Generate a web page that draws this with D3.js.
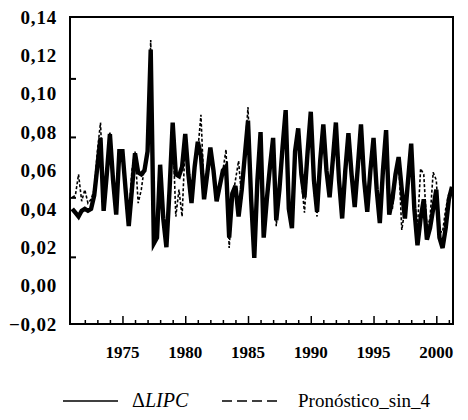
<!DOCTYPE html>
<html><head><meta charset="utf-8">
<script src="https://cdn.jsdelivr.net/npm/d3@7"></script>
<style>body{margin:0;background:#fff}svg{display:block}</style>
</head><body><svg id="c" width="468" height="420"></svg>
<script>
// Quarterly data, 1971Q1 .. 2001Q2
const startYear = 1971;
const dLIPC = [
  0.040,0.038,0.036,0.039, 0.040,0.039,0.040,0.047,
  0.062,0.077,0.039,0.058, 0.079,0.055,0.037,0.070,
  0.070,0.050,0.031,0.050, 0.069,0.059,0.058,0.060,
  0.070,0.123,0.022,0.025, 0.063,0.035,0.020,0.050,
  0.085,0.058,0.057,0.062, 0.079,0.058,0.043,0.062,
  0.075,0.068,0.045,0.058, 0.072,0.060,0.044,0.052,
  0.060,0.062,0.025,0.048, 0.052,0.036,0.050,0.068,
  0.086,0.045,0.0144,0.055, 0.080,0.025,0.045,0.062,
  0.077,0.034,0.050,0.072, 0.0915,0.040,0.030,0.070,
  0.082,0.058,0.046,0.070, 0.0906,0.055,0.0385,0.065,
  0.084,0.060,0.046,0.065, 0.085,0.055,0.035,0.060,
  0.0795,0.058,0.041,0.062, 0.084,0.055,0.0385,0.060,
  0.077,0.050,0.0326,0.060, 0.081,0.037,0.045,0.058,
  0.067,0.050,0.035,0.055, 0.074,0.040,0.021,0.035,
  0.045,0.024,0.030,0.040, 0.050,0.025,0.0196,0.030,
  0.045,0.0515
];
const pronostico = [
  0.046,0.047,0.058,0.044, 0.050,0.043,0.045,0.050,
  0.070,0.085,0.045,0.060, 0.080,0.050,0.040,0.068,
  0.068,0.052,0.035,0.060, 0.070,0.043,0.050,0.062,
  0.068,0.128,0.028,0.030, 0.060,0.035,0.025,0.055,
  0.082,0.036,0.050,0.036, 0.075,0.060,0.048,0.062,
  0.070,0.089,0.050,0.060, 0.070,0.062,0.048,0.050,
  0.060,0.071,0.0196,0.045, 0.055,0.065,0.045,0.070,
  0.093,0.050,0.025,0.055, 0.078,0.035,0.045,0.060,
  0.075,0.031,0.050,0.070, 0.088,0.042,0.035,0.068,
  0.080,0.055,0.038,0.065, 0.085,0.050,0.036,0.062,
  0.080,0.058,0.048,0.062, 0.082,0.055,0.040,0.060,
  0.078,0.055,0.043,0.060, 0.080,0.052,0.040,0.058,
  0.075,0.050,0.036,0.058, 0.078,0.045,0.040,0.055,
  0.065,0.029,0.040,0.055, 0.070,0.045,0.030,0.061,
  0.058,0.030,0.035,0.059, 0.055,0.028,0.028,0.040,
  0.048,0.050
];
const yTickLabels = [-0.02,0.00,0.02,0.04,0.06,0.08,0.10,0.12,0.14];
const yTickMarks = [0.015,0.046,0.0775,0.108];
const xMajorYears = [1975,1980,1985,1990,1995,2000];
const xMinorYears = d3.range(1972,2002);
const seriesNames = ["\u0394LIPC","Pron\u00f3stico_sin_4"];

const FONT='"Liberation Serif", serif';
const L=70,R=453,T=17,B=324;
const svg=d3.select("#c");
const x=d3.scaleLinear().domain([1970.82,2001.33]).range([L,R]);
const y=d3.scaleLinear().domain([-0.02,0.14]).range([B,T]);
const t=i=>startYear+i/4;

const line=d3.line().x((d,i)=>x(t(i))).y(d=>y(d));

// series
svg.append("path").datum(pronostico).attr("d",line)
  .attr("fill","none").attr("stroke","#000").attr("stroke-width",1.6)
  .attr("stroke-dasharray","3,2");
svg.append("path").datum(dLIPC).attr("d",line)
  .attr("fill","none").attr("stroke","#000").attr("stroke-width",4.4)
  .attr("stroke-linejoin","miter");

// frame
svg.append("rect").attr("x",L).attr("y",T).attr("width",R-L).attr("height",B-T)
  .attr("fill","none").attr("stroke","#000").attr("stroke-width",2);

// y axis: tick marks (inward) and labels
const ya=d3.axisRight(y).tickValues(yTickMarks).tickSize(6).tickFormat("");
svg.append("g").attr("transform",`translate(${L},0)`).call(ya)
  .call(g=>{g.select(".domain").remove();g.selectAll("line").attr("stroke","#000").attr("stroke-width",2);});
const fmt=v=>d3.format(".2f")(v).replace(".",",");
svg.append("g").selectAll("text").data(yTickLabels).join("text")
  .attr("x",57).attr("y",d=>y(d)).attr("dy","0.35em").attr("text-anchor","end")
  .style("font-family",FONT).attr("font-size",19).attr("font-weight","bold")
  .attr("letter-spacing","0.8")
  .text(d=>fmt(d));

// x axis ticks
const xminor=d3.axisTop(x).tickValues(xMinorYears.filter(v=>!xMajorYears.includes(v))).tickSize(4).tickFormat("");
svg.append("g").attr("transform",`translate(0,${B})`).call(xminor)
  .call(g=>{g.select(".domain").remove();g.selectAll("line").attr("stroke","#000").attr("stroke-width",1.5);});
const xmajor=d3.axisTop(x).tickValues(xMajorYears).tickSize(8).tickFormat("");
svg.append("g").attr("transform",`translate(0,${B})`).call(xmajor)
  .call(g=>{g.select(".domain").remove();g.selectAll("line").attr("stroke","#000").attr("stroke-width",1.5);});
svg.append("g").selectAll("text").data(xMajorYears).join("text")
  .attr("x",d=>x(d)).attr("y",358).attr("text-anchor","middle")
  .style("font-family",FONT).attr("font-size",17).attr("font-weight","bold")
  .text(d=>d);

// legend
const lg=svg.append("g");
lg.append("line").attr("x1",63).attr("x2",118).attr("y1",401).attr("y2",401)
  .attr("stroke","#000").attr("stroke-width",1.6);
const t1=lg.append("text").attr("x",132).attr("y",407).style("font-family",FONT).attr("font-size",20);
t1.append("tspan").text(seriesNames[0].slice(0,1));
t1.append("tspan").attr("font-style","italic").text(seriesNames[0].slice(1));
lg.append("line").attr("x1",222).attr("x2",278).attr("y1",401).attr("y2",401)
  .attr("stroke","#000").attr("stroke-width",1.6).attr("stroke-dasharray","10,5");
lg.append("text").attr("x",298).attr("y",407).style("font-family",FONT).attr("font-size",19)
  .text(seriesNames[1]);
</script></body></html>
